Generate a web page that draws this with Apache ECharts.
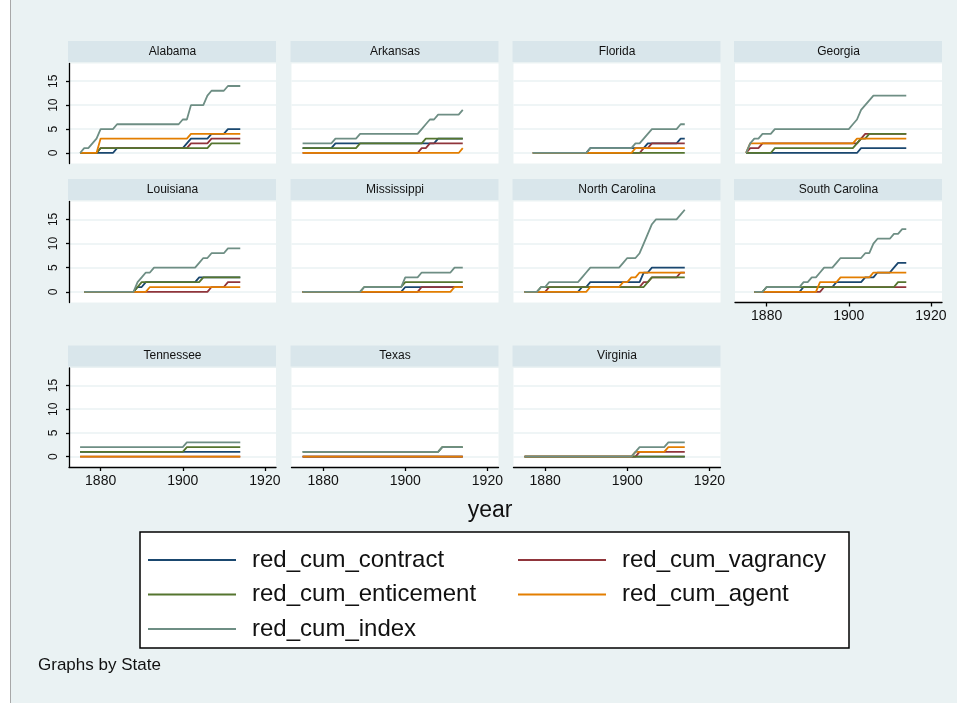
<!DOCTYPE html>
<html>
<head>
<meta charset="utf-8">
<script src="https://cdn.jsdelivr.net/npm/echarts@6/dist/echarts.min.js"></script>
<style>
html,body{margin:0;padding:0;background:#fff;}
#bg{position:absolute;left:10px;top:0;width:946px;height:703px;background:#eaf2f3;border-left:1px solid #a8a8a8;}
#chart{position:absolute;left:0;top:0;width:964px;height:706px;}
</style>
</head>
<body>
<div id="bg"></div>
<div id="chart"></div>
<script>
// ---- categories / labels ----
const states = ['Alabama','Arkansas','Florida','Georgia','Louisiana','Mississippi','North Carolina','South Carolina','Tennessee','Texas','Virginia'];
const seriesNames = ['red_cum_contract','red_cum_vagrancy','red_cum_enticement','red_cum_agent','red_cum_index'];
const yTicks = [0,5,10,15];
const xTicks = [1880,1900,1920];

// ---- values: [year, cumulative count] change points ----
const AL_contract   = [[1875,0],[1884,1],[1901,2],[1902,3],[1907,4],[1911,5],[1914,5]];
const AL_vagrancy   = [[1875,0],[1880,1],[1902,2],[1907,3],[1914,3]];
const AL_enticement = [[1875,0],[1880,1],[1907,2],[1914,2]];
const AL_agent      = [[1875,0],[1880,3],[1902,4],[1914,4]];
const AL_index      = [[1875,0],[1876,1],[1877,1],[1878,2],[1879,3],[1880,5],[1883,5],[1884,6],[1899,6],[1900,7],[1901,7],[1902,10],[1905,10],[1906,12],[1907,13],[1910,13],[1911,14],[1914,14]];

const AR_contract   = [[1875,1],[1883,2],[1908,3],[1914,3]];
const AR_vagrancy   = [[1875,0],[1904,1],[1906,2],[1914,2]];
const AR_enticement = [[1875,1],[1889,2],[1905,3],[1914,3]];
const AR_agent      = [[1875,0],[1913,0],[1914,1]];
const AR_index      = [[1875,2],[1883,3],[1889,4],[1904,5],[1905,6],[1906,7],[1908,8],[1913,8],[1914,9]];

const FL_contract   = [[1877,0],[1891,1],[1905,2],[1913,3],[1914,3]];
const FL_vagrancy   = [[1877,0],[1904,1],[1906,2],[1914,2]];
const FL_enticement = [[1877,0],[1914,0]];
const FL_agent      = [[1877,0],[1902,1],[1914,1]];
const FL_index      = [[1877,0],[1891,1],[1901,1],[1902,2],[1904,3],[1905,4],[1906,5],[1912,5],[1913,6],[1914,6]];

const GA_contract   = [[1875,0],[1903,1],[1914,1]];
const GA_vagrancy   = [[1875,0],[1876,1],[1878,1],[1879,2],[1902,2],[1903,3],[1904,4],[1914,4]];
const GA_enticement = [[1875,0],[1882,1],[1901,1],[1902,2],[1903,3],[1905,4],[1914,4]];
const GA_agent      = [[1875,0],[1876,2],[1901,2],[1902,3],[1914,3]];
const GA_index      = [[1875,0],[1876,2],[1877,3],[1878,3],[1879,4],[1881,4],[1882,5],[1900,5],[1901,6],[1902,7],[1903,9],[1904,10],[1905,11],[1906,12],[1914,12]];

const LA_contract   = [[1876,0],[1889,1],[1891,2],[1904,3],[1914,3]];
const LA_vagrancy   = [[1876,0],[1907,1],[1911,2],[1914,2]];
const LA_enticement = [[1876,0],[1889,1],[1890,2],[1905,3],[1914,3]];
const LA_agent      = [[1876,0],[1891,0],[1892,1],[1914,1]];
const LA_index      = [[1876,0],[1888,0],[1889,2],[1890,3],[1891,4],[1893,5],[1903,5],[1904,6],[1905,7],[1906,7],[1907,8],[1910,8],[1911,9],[1914,9]];

const MS_contract   = [[1875,0],[1899,0],[1900,1],[1914,1]];
const MS_vagrancy   = [[1875,0],[1903,0],[1904,1],[1914,1]];
const MS_enticement = [[1875,0],[1889,0],[1890,1],[1899,1],[1900,2],[1914,2]];
const MS_agent      = [[1875,0],[1911,0],[1912,1],[1914,1]];
const MS_index      = [[1875,0],[1889,0],[1890,1],[1899,1],[1900,3],[1903,3],[1904,4],[1911,4],[1912,5],[1914,5]];

const NC_contract   = [[1875,0],[1888,0],[1889,1],[1891,2],[1904,4],[1906,5],[1914,5]];
const NC_vagrancy   = [[1875,0],[1880,0],[1881,1],[1904,2],[1906,3],[1912,3],[1913,4],[1914,4]];
const NC_enticement = [[1875,0],[1878,0],[1879,1],[1904,1],[1905,2],[1906,3],[1914,3]];
const NC_agent      = [[1875,0],[1890,0],[1891,1],[1898,1],[1899,2],[1900,2],[1901,3],[1902,3],[1903,4],[1914,4]];
const NC_index      = [[1875,0],[1878,0],[1879,1],[1881,2],[1888,2],[1889,3],[1890,4],[1891,5],[1898,5],[1899,6],[1900,7],[1902,7],[1903,8],[1904,10],[1905,12],[1906,14],[1907,15],[1912,15],[1913,16],[1914,17]];

const SC_contract   = [[1877,0],[1888,0],[1889,1],[1896,1],[1897,2],[1903,2],[1904,3],[1906,3],[1907,4],[1910,4],[1911,5],[1912,6],[1914,6]];
const SC_vagrancy   = [[1877,0],[1893,0],[1894,1],[1914,1]];
const SC_enticement = [[1877,0],[1879,0],[1880,1],[1911,1],[1912,2],[1914,2]];
const SC_agent      = [[1877,0],[1892,0],[1893,2],[1897,2],[1898,3],[1905,3],[1906,4],[1914,4]];
const SC_index      = [[1877,0],[1879,0],[1880,1],[1888,1],[1889,2],[1890,2],[1891,3],[1892,3],[1893,4],[1894,5],[1896,5],[1897,6],[1898,7],[1903,7],[1904,8],[1905,8],[1906,10],[1907,11],[1910,11],[1911,12],[1912,12],[1913,13],[1914,13]];

const TN_contract   = [[1875,1],[1914,1]];
const TN_vagrancy   = [[1875,0],[1914,0]];
const TN_enticement = [[1875,1],[1900,1],[1901,2],[1914,2]];
const TN_agent      = [[1875,0],[1914,0]];
const TN_index      = [[1875,2],[1900,2],[1901,3],[1914,3]];

const TX_contract   = [[1875,0],[1914,0]];
const TX_vagrancy   = [[1875,0],[1914,0]];
const TX_enticement = [[1875,1],[1908,1],[1909,2],[1914,2]];
const TX_agent      = [[1875,0],[1914,0]];
const TX_index      = [[1875,1],[1908,1],[1909,2],[1914,2]];

const VA_contract   = [[1875,0],[1914,0]];
const VA_vagrancy   = [[1875,0],[1902,0],[1903,1],[1914,1]];
const VA_enticement = [[1875,0],[1914,0]];
const VA_agent      = [[1875,0],[1901,0],[1902,1],[1909,1],[1910,2],[1914,2]];
const VA_index      = [[1875,0],[1901,0],[1902,1],[1903,2],[1909,2],[1910,3],[1914,3]];

// table built from the arrays above
const stateData = [
  [AL_contract,AL_vagrancy,AL_enticement,AL_agent,AL_index],
  [AR_contract,AR_vagrancy,AR_enticement,AR_agent,AR_index],
  [FL_contract,FL_vagrancy,FL_enticement,FL_agent,FL_index],
  [GA_contract,GA_vagrancy,GA_enticement,GA_agent,GA_index],
  [LA_contract,LA_vagrancy,LA_enticement,LA_agent,LA_index],
  [MS_contract,MS_vagrancy,MS_enticement,MS_agent,MS_index],
  [NC_contract,NC_vagrancy,NC_enticement,NC_agent,NC_index],
  [SC_contract,SC_vagrancy,SC_enticement,SC_agent,SC_index],
  [TN_contract,TN_vagrancy,TN_enticement,TN_agent,TN_index],
  [TX_contract,TX_vagrancy,TX_enticement,TX_agent,TX_index],
  [VA_contract,VA_vagrancy,VA_enticement,VA_agent,VA_index]
];

// ---- style / layout ----
const colors = ['#1a476f','#90353b','#55752f','#e37e00','#6e8e84'];
const FONT = '"Liberation Sans", Arial, sans-serif';
const colLeft = [69, 291.5, 513.5, 735];
const panelW = 207;
const rowTop = [63.5, 201.5, 368];
const rowH = [100, 101, 99];

// yearly points: a change at year Y goes from the old value at Y-1
function toLine(points){
  const out = [];
  for (let k = 0; k < points.length; k++){
    const p = points[k];
    if (k > 0){
      const q = points[k-1];
      if (p[1] !== q[1] && p[0]-1 > q[0]) out.push([p[0]-1, q[1]]);
    }
    out.push([p[0], p[1]]);
  }
  return out;
}

const grids = [], xAxes = [], yAxes = [], series = [], graphics = [];
states.forEach((st, i) => {
  const row = Math.floor(i/4), col = i % 4;
  const left = colLeft[col], top = rowTop[row], h = rowH[row];
  const showX = row === 2 || (row === 1 && col === 3);
  const showY = col === 0;
  grids.push({left: left, top: top, width: panelW, height: h, show: true, backgroundColor: '#ffffff', borderWidth: 0});
  xAxes.push({
    type: 'value', gridIndex: i, min: 1872.3, max: 1922.7,
    axisLine: {show: showX, onZero: false, lineStyle: {color: '#000', width: 1.3}},
    axisTick: {show: showX, customValues: xTicks, length: 4, lineStyle: {color: '#000', width: 1.3}},
    axisLabel: {show: showX, customValues: xTicks, fontSize: 14, color: '#111', margin: 7, fontFamily: FONT,
                formatter: v => String(v)},
    splitLine: {show: false}
  });
  yAxes.push({
    type: 'value', gridIndex: i, min: -2.2, max: 18.7,
    axisLine: {show: showY, onZero: false, lineStyle: {color: '#000', width: 1.3}},
    axisTick: {show: showY, customValues: yTicks, length: 3, lineStyle: {color: '#000', width: 1.3}},
    axisLabel: {show: showY, customValues: yTicks, rotate: 90, fontSize: 12, color: '#111', margin: 9, fontFamily: FONT},
    splitLine: {show: true, lineStyle: {color: '#eaf2f3', width: 1.6}}
  });
  stateData[i].forEach((pts, s) => {
    series.push({
      type: 'line', name: seriesNames[s], xAxisIndex: i, yAxisIndex: i,
      data: toLine(pts), symbol: 'none', showSymbol: false,
      lineStyle: {color: colors[s], width: 1.8}, itemStyle: {color: colors[s]},
      z: 2 + s, silent: true
    });
  });
  graphics.push({type: 'rect', shape: {x: left - 1, y: top - 22.5, width: panelW + 1, height: 21}, style: {fill: '#d9e6eb'}});
  graphics.push({type: 'text', x: left + panelW/2, y: top - 12, style: {text: st, font: '12px ' + FONT, fill: '#111', textAlign: 'center', textVerticalAlign: 'middle'}});
});

graphics.push({type: 'rect', shape: {x: 140, y: 532, width: 709, height: 116}, style: {fill: '#ffffff', stroke: '#000', lineWidth: 1.5}});
graphics.push({type: 'text', x: 490, y: 511, style: {text: 'year', font: '23px ' + FONT, fill: '#111', textAlign: 'center', textVerticalAlign: 'middle'}});
graphics.push({type: 'text', x: 38, y: 665, style: {text: 'Graphs by State', font: '17px ' + FONT, fill: '#111', textAlign: 'left', textVerticalAlign: 'middle'}});

const legendCommon = {orient: 'vertical', top: 548, padding: 0, icon: 'rect', itemWidth: 88, itemHeight: 2, itemGap: 10.5,
  textStyle: {fontSize: 24, lineHeight: 24, color: '#111', fontFamily: FONT, padding: [0,0,0,11]}, z: 10};

const option = {
  animation: false,
  backgroundColor: 'transparent',
  grid: grids, xAxis: xAxes, yAxis: yAxes, series: series,
  graphic: {elements: graphics},
  legend: [
    Object.assign({left: 148, data: ['red_cum_contract','red_cum_enticement','red_cum_index']}, legendCommon),
    Object.assign({left: 518, data: ['red_cum_vagrancy','red_cum_agent']}, legendCommon)
  ]
};
const chart = echarts.init(document.getElementById('chart'), null, {renderer: 'canvas'});
chart.setOption(option);
</script>
</body>
</html>
